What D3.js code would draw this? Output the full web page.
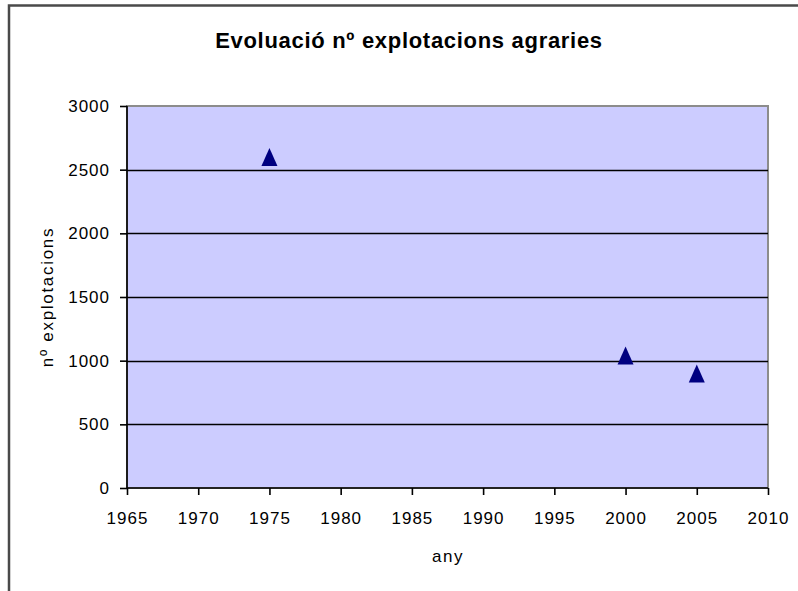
<!DOCTYPE html>
<html><head><meta charset="utf-8">
<script src="https://cdn.jsdelivr.net/npm/d3@7"></script>
<style>body{margin:0;background:#fff}svg{display:block}</style>
</head><body>
<script>
const years = [1975, 2000, 2005];
const values = [2600, 1040, 900];
const xTicks = [1965,1970,1975,1980,1985,1990,1995,2000,2005,2010];
const yTicks = [0,500,1000,1500,2000,2500,3000];
const title = "Evoluació nº explotacions agraries";
const xLabel = "any";
const yLabel = "nº explotacions";

const W = 798, H = 591;
const svg = d3.select("body").append("svg").attr("width", W).attr("height", H);
const font = "Liberation Sans, Arial, sans-serif";

// outer chart border (cropped)
svg.append("path").attr("d", `M9,${H+5} V5.5 H${W+5}`).attr("fill","none").attr("stroke","#4a4a4a").attr("stroke-width",2.5);

const L = 127, R = 768, T = 106, B = 488;
const x = d3.scaleLinear().domain([1965, 2010]).range([L, R]);
const y = d3.scaleLinear().domain([0, 3000]).range([B, T]);

svg.append("rect").attr("x", L).attr("y", T).attr("width", R-L).attr("height", B-T)
  .attr("fill", "#ccccff").attr("stroke", "#8c8c8c").attr("stroke-width", 2);

// gridlines
svg.append("g").selectAll("line").data(yTicks.filter(d => d > 0 && d < 3000)).join("line")
  .attr("x1", L).attr("x2", R).attr("y1", d => Math.round(y(d))+0.5).attr("y2", d => Math.round(y(d))+0.5)
  .attr("stroke", "#000").attr("stroke-width", 1.6);

// axes
const yAxis = svg.append("g").attr("transform", `translate(${L},0)`)
  .call(d3.axisLeft(y).tickValues(yTicks).tickFormat(d3.format("d")).tickSize(7).tickPadding(10));
const xAxis = svg.append("g").attr("transform", `translate(0,${B})`)
  .call(d3.axisBottom(x).tickValues(xTicks).tickFormat(d3.format("d")).tickSize(7).tickPadding(17));
[yAxis, xAxis].forEach(g => {
  g.select(".domain").attr("stroke", "#000").attr("stroke-width", 1.6);
  g.selectAll(".tick line").attr("stroke", "#000").attr("stroke-width", 1.6);
  g.selectAll("text").attr("font-family", font).attr("font-size", 17).attr("letter-spacing", 1).attr("fill", "#000");
});
yAxis.selectAll(".domain").attr("d", `M0,${T}V${B}`);
xAxis.selectAll(".domain").attr("d", `M${L},0H${R}`);

// points (triangles)
const tri = { draw(ctx, size) { const w = 8, h = 9; ctx.moveTo(0, -h); ctx.lineTo(w, h); ctx.lineTo(-w, h); ctx.closePath(); } };
svg.append("g").selectAll("path").data(years.map((d,i)=>[d, values[i]])).join("path")
  .attr("d", d3.symbol().type(tri))
  .attr("transform", d => `translate(${x(d[0])},${y(d[1])})`)
  .attr("fill", "#000080");

// title & labels
svg.append("text").attr("x", 409).attr("y", 48).attr("text-anchor", "middle")
  .attr("font-family", font).attr("font-weight", "bold").attr("font-size", 22).attr("letter-spacing", 0.7).text(title);
svg.append("text").attr("x", 448).attr("y", 562).attr("text-anchor", "middle")
  .attr("font-family", font).attr("font-size", 17).attr("letter-spacing", 1.5).text(xLabel);
svg.append("text").attr("transform", "translate(53,297) rotate(-90)").attr("text-anchor", "middle")
  .attr("font-family", font).attr("font-size", 17).attr("letter-spacing", 1.7).text(yLabel);
</script>
</body></html>
